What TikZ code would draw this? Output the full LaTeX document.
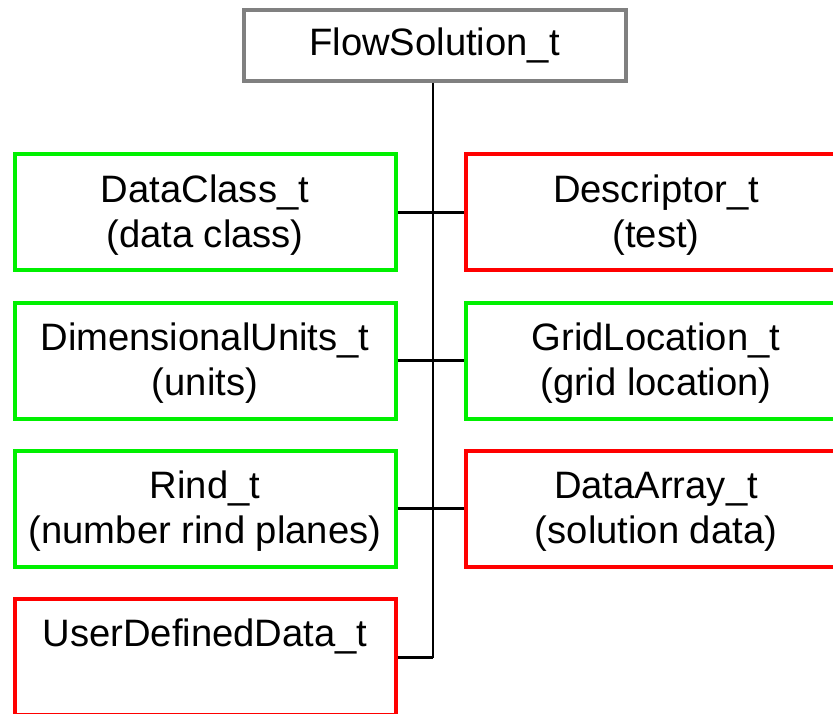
\documentclass[tikz,border=0pt]{standalone}
\usepackage{fontspec}
\setmainfont{Liberation Sans}
% taller first line so the two-line labels sit a little lower in their boxes
\newcommand{\firstlinestrut}{\rule{0pt}{32pt}}
\begin{document}
\begin{tikzpicture}[x=1pt,y=-1pt,
  every node/.style={font=\fontsize{38.2}{45}\selectfont, align=center, inner sep=0pt},
  box/.style={draw, fill=white, line width=4pt, minimum width=381pt, minimum height=116pt},
  goodbox/.style={box, draw=okgreen},
  badbox/.style={box, draw=badred},
  wire/.style={line width=2.2pt, draw=black}]
\definecolor{okgreen}{RGB}{0,240,0}
\definecolor{badred}{RGB}{255,0,0}
\definecolor{rootgray}{RGB}{128,128,128}
\useasboundingbox (0,0) rectangle (833,714);
\clip (0,0) rectangle (833,714);
\fill[white] (0,0) rectangle (833,714);

% root node
\node[draw=rootgray, fill=white, line width=4pt, minimum width=382pt, minimum height=71pt] (root) at (434.5,45.5) {FlowSolution\_t};

% left column
\node[goodbox] (dc)  at (205,212.5) {\firstlinestrut DataClass\_t\\(data class)};
\node[goodbox] (du)  at (205,360.5) {\firstlinestrut DimensionalUnits\_t\\(units)};
\node[goodbox] (ri)  at (205,508.5) {\firstlinestrut Rind\_t\\(number rind planes)};
\node[badbox]  (ud)  at (205,656.5) {\firstlinestrut UserDefinedData\_t\\\phantom{(}};

% right column
\node[badbox]  (de)  at (656,212.5) {\firstlinestrut Descriptor\_t\\(test)};
\node[goodbox] (gl)  at (656,360.5) {\firstlinestrut GridLocation\_t\\(grid location)};
\node[badbox]  (da)  at (656,508.5) {\firstlinestrut DataArray\_t\\(solution data)};

% spine and branches
\coordinate (spineend) at (433,657.5);
\draw[wire] (root.south -| spineend) -- (spineend);
\draw[wire] (dc.east) -- (de.west);
\draw[wire] (du.east) -- (gl.west);
\draw[wire] (ri.east) -- (da.west);
\draw[wire] (ud.east |- spineend) -- (spineend);
\end{tikzpicture}
\end{document}
